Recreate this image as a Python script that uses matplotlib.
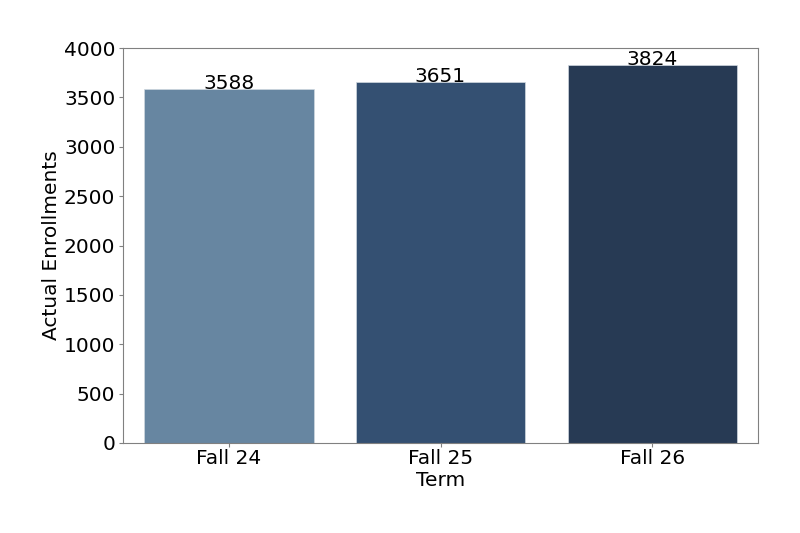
import matplotlib
matplotlib.use("Agg")
import matplotlib.pyplot as plt

terms = ["Fall 24", "Fall 25", "Fall 26"]
enrollments = [3588, 3651, 3824]
bar_colors = ["#6786a1", "#345072", "#273a54"]

fs = 14.5

fig = plt.figure(figsize=(8, 5.33), dpi=100)
ax = fig.add_axes([123 / 800, 1 - 443 / 533, 635 / 800, 395 / 533])

x = range(len(terms))
bars = ax.bar(x, enrollments, width=0.8, color=bar_colors,
              edgecolor="#d0d8e0", linewidth=0.5)
for b, v in zip(bars, enrollments):
    # baseline sits right on the bar top, like the original
    ax.text(b.get_x() + b.get_width() / 2, v, str(v),
            ha="center", va="baseline", fontsize=fs)

ax.set_xlim(-0.5, 2.5)
ax.set_ylim(0, 4000)
ax.set_xticks(list(x))
ax.set_xticklabels(terms)
ax.set_yticks(range(0, 4001, 500))
ax.tick_params(labelsize=fs, color="#808080", length=3)
ax.tick_params(axis="x", pad=1.5)
ax.tick_params(axis="y", pad=2.5)
ax.set_xlabel("Term", fontsize=fs, labelpad=2)
ax.set_ylabel("Actual Enrollments", fontsize=fs, labelpad=2)
for s in ax.spines.values():
    s.set_color("#808080")

fig.savefig("out.png", dpi=100)
